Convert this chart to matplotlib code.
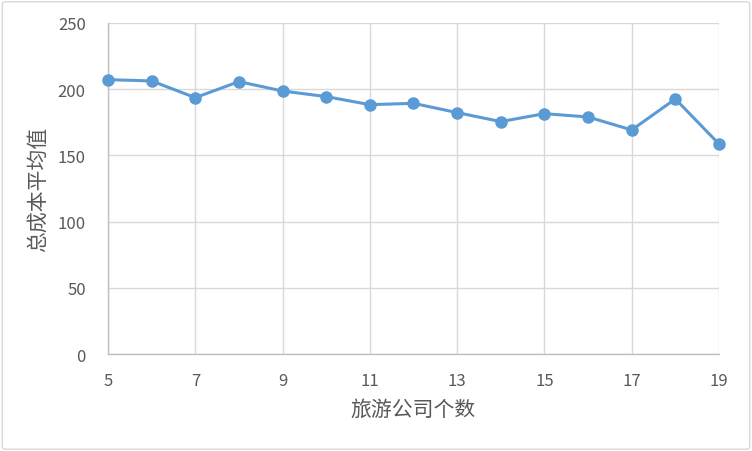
import matplotlib.pyplot as plt
from matplotlib.patches import FancyBboxPatch

plt.rcParams['font.family'] = ['Noto Sans CJK SC', 'DejaVu Sans']

# data
companies = [5, 6, 7, 8, 9, 10, 11, 12, 13, 14, 15, 16, 17, 18, 19]
avg_cost = [207.2, 206.2, 193.6, 205.7, 198.6, 194.4, 188.3, 189.3,
            182.3, 175.5, 181.5, 179.0, 169.2, 192.6, 158.6]
x_ticks = [5, 7, 9, 11, 13, 15, 17, 19]
y_ticks = [0, 50, 100, 150, 200, 250]

fig = plt.figure(figsize=(7.52, 4.52), dpi=100)
ax = fig.add_axes([0.1436, 0.2146, 0.8125, 0.7324])

ax.plot(companies, avg_cost, color='#5b9bd5', linewidth=2.2,
        marker='o', markersize=8, zorder=3, clip_on=False)

ax.set_xlim(5, 19)
ax.set_ylim(0, 250)
ax.set_xticks(x_ticks)
ax.set_yticks(y_ticks)
ax.grid(True, color='#d9d9d9', linewidth=1)
ax.set_axisbelow(True)
ax.tick_params(length=0, labelsize=12, colors='#595959')
ax.tick_params(axis='x', pad=13)
ax.tick_params(axis='y', pad=16)

for s in ['top', 'right']:
    ax.spines[s].set_visible(False)
for s in ['left', 'bottom']:
    ax.spines[s].set_color('#bfbfbf')
    ax.spines[s].set_linewidth(1)

ax.set_xlabel('旅游公司个数', fontsize=15, color='#595959', labelpad=6)
ax.set_ylabel('总成本平均值', fontsize=15, color='#595959', labelpad=6)

# light border around the chart area
border = FancyBboxPatch((0.003, 0.004), 0.994, 0.99, boxstyle='round,pad=0,rounding_size=0.005',
                        transform=fig.transFigure, fill=False, edgecolor='#d9d9d9', linewidth=1)
fig.patches.append(border)

fig.savefig('out.png', dpi=100)
